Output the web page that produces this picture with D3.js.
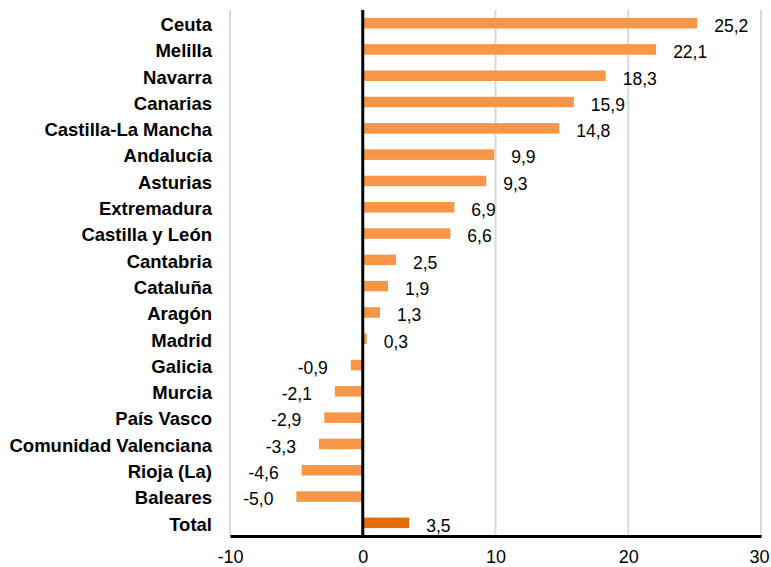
<!DOCTYPE html>
<html>
<head>
<meta charset="utf-8">
<script src="https://cdn.jsdelivr.net/npm/d3@7"></script>
<style>
  body { margin: 0; background: #fff; }
  svg { font-family: "Liberation Sans", Arial, sans-serif; }
</style>
</head>
<body>
<div id="chart"></div>
<script>
// Regions and their values
var regions = ["Ceuta", "Melilla", "Navarra", "Canarias", "Castilla-La Mancha", "Andalucía",
  "Asturias", "Extremadura", "Castilla y León", "Cantabria", "Cataluña", "Aragón", "Madrid",
  "Galicia", "Murcia", "País Vasco", "Comunidad Valenciana", "Rioja (La)", "Baleares", "Total"];
var values = [25.2, 22.1, 18.3, 15.9, 14.8, 9.9, 9.3, 6.9, 6.6, 2.5, 1.9, 1.3, 0.3,
  -0.9, -2.1, -2.9, -3.3, -4.6, -5.0, 3.5];
var xTicks = [-10, 0, 10, 20, 30];

var width = 771, height = 567;
var margin = {top: 10, right: 10, bottom: 31, left: 230};

var svg = d3.select("#chart").append("svg")
  .attr("width", width)
  .attr("height", height);

var x = d3.scaleLinear().domain([-10, 30]).range([margin.left, width - margin.right]);
var y = d3.scaleBand().domain(regions)
  .range([margin.top, height - margin.bottom])
  .paddingInner(0.6).paddingOuter(0.3);

// vertical gridlines
svg.append("g").selectAll("line")
  .data(xTicks.filter(function(d) { return d !== 0; }))
  .enter().append("line")
  .attr("x1", function(d) { return x(d); })
  .attr("x2", function(d) { return x(d); })
  .attr("y1", margin.top)
  .attr("y2", height - margin.bottom)
  .attr("stroke", "#d9d9d9")
  .attr("stroke-width", 2);

// bars
svg.append("g").selectAll("rect")
  .data(values)
  .enter().append("rect")
  .attr("x", function(d) { return x(Math.min(0, d)); })
  .attr("y", function(d, i) { return y(regions[i]); })
  .attr("width", function(d) { return Math.abs(x(d) - x(0)); })
  .attr("height", y.bandwidth())
  .attr("fill", function(d, i) { return regions[i] === "Total" ? "#e36c0a" : "#f79646"; });

// value labels
svg.append("g").selectAll("text")
  .data(values)
  .enter().append("text")
  .attr("x", function(d) { return d >= 0 ? x(d) + 17 : x(d) - 23; })
  .attr("y", function(d, i) { return y(regions[i]) + y.bandwidth() / 2; })
  .attr("dy", "0.5em")
  .attr("text-anchor", function(d) { return d >= 0 ? "start" : "end"; })
  .style("font-size", "17.5px")
  .attr("fill", "#000")
  .text(function(d) { return d3.format(".1f")(d).replace(".", ",").replace("−", "-"); });

// category labels
svg.append("g").selectAll("text")
  .data(regions)
  .enter().append("text")
  .attr("x", 212)
  .attr("y", function(d) { return y(d) + y.bandwidth() / 2; })
  .attr("dy", "0.42em")
  .attr("text-anchor", "end")
  .style("font-size", "18.5px")
  .style("font-weight", "bold")
  .text(function(d) { return d; });

// zero line
svg.append("line")
  .attr("x1", x(0)).attr("x2", x(0))
  .attr("y1", margin.top).attr("y2", height - margin.bottom)
  .attr("stroke", "#000").attr("stroke-width", 3);

// bottom axis
var xAxis = d3.axisBottom(x).tickValues(xTicks).tickSize(0).tickPadding(14);
var ax = svg.append("g")
  .attr("transform", "translate(0," + (height - margin.bottom) + ")")
  .call(xAxis);
ax.select(".domain").attr("stroke", "#000").attr("stroke-width", 3);
ax.selectAll("text")
  .style("font-size", "18px")
  .style("font-family", "Liberation Sans, Arial, sans-serif")
  .attr("fill", "#000")
  .attr("dx", function(d) { return d === 30 ? -2 : 0; })
  .text(function(d) { return String(d); });
</script>
</body>
</html>
